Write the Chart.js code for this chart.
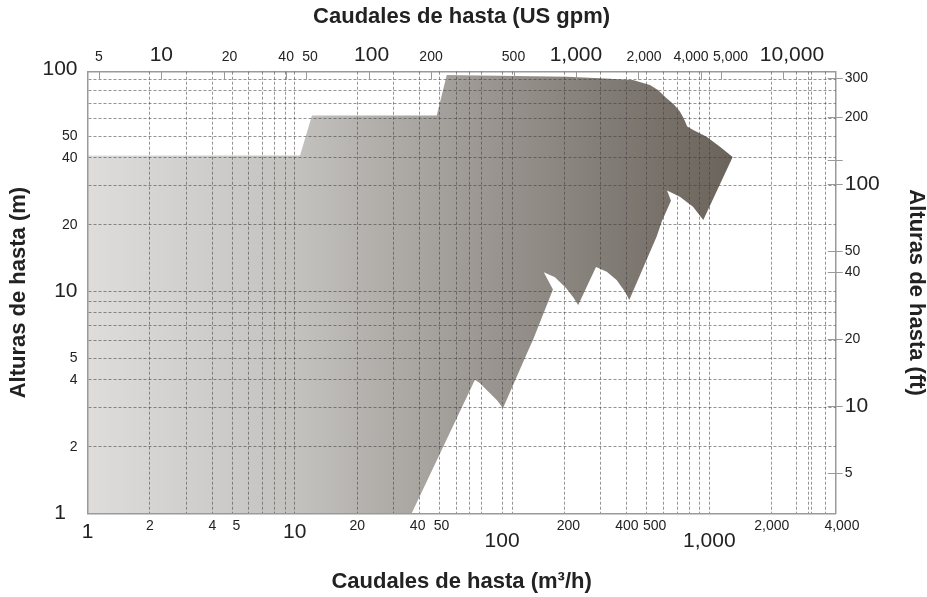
<!DOCTYPE html>
<html>
<head>
<meta charset="utf-8">
<script src="https://cdn.jsdelivr.net/npm/chart.js@4.4.0/dist/chart.umd.min.js"></script>
<style>
  html, body { margin: 0; padding: 0; background: #fff; }
  canvas { display: block; }
</style>
</head>
<body>
<canvas id="chart" width="927" height="597"></canvas>
<script>
// covered area, traced clockwise from the top-left corner: flow (m3/h) and head (m)
const envelopeFlow = [1, 10.6, 12.1, 48.4, 54.1, 206, 297, 428, 517, 565, 622, 675, 721, 751, 782,
  836, 970, 1125, 1296, 935, 834, 721, 625, 653, 589, 557, 411, 392, 357, 320, 284, 233, 220, 203,
  180, 159, 176, 141, 136, 101, 94.5, 87.4, 78.2, 74, 36.6, 1];
const envelopeHead = [41, 41, 62, 62, 94.5, 92.8, 91.3, 89.7, 85.2, 80.9, 74.2, 69.5, 64.6, 60.5, 55.3,
  53.4, 49.8, 44.9, 40.3, 21.0, 24.1, 26.7, 28.5, 25.6, 20.6, 17.7, 9.16, 9.98, 11.27, 12.28, 12.9, 8.7, 9.45, 10.4,
  11.6, 12.2, 10.2, 6.05, 5.62, 2.98, 3.24, 3.48, 3.86, 4.0, 1, 1];

// axes
const flowTicks = [1, 2, 4, 5, 10, 20, 40, 50, 100, 200, 400, 500, 1000, 2000, 4000];
const flowGrid = [2, 3, 4, 5, 6, 7, 8, 9, 10, 20, 30, 40, 50, 60, 70, 80, 100, 112,
  200, 300, 400, 500, 600, 700, 800, 900, 1000, 2000, 2640, 3000, 3120, 3615];
const headTicks = [1, 2, 4, 5, 10, 20, 40, 50, 100];
const headGrid = [2, 3, 4, 5, 6, 7, 8, 9, 10, 20, 30, 40, 50, 60, 70, 80, 90];
const gpmTicks = [5, 10, 20, 40, 50, 100, 200, 500, 1000, 2000, 4000, 5000, 10000];
const feetTicks = [5, 10, 20, 40, 50, 100, 128, 200, 300];
const feetLabels = ['5', '10', '20', '40', '50', '100', '', '200', '300'];

const flowRange = [1, 4070];
const headRange = [1, 97.7];
const GPM_PER_M3H = 4.4029;
const FT_PER_M = 1 / 0.3048;

// label tweaks (spaces to push a label sideways, lowered big labels)
const bottomNudge = {5: 2, 40: -1, 50: 1, 200: 2, 500: 4, 4000: 4};
const topNudge = {20: 3, 50: 2, 100: 1, 2000: 3, 4000: -5, 5000: 5, 10000: 3};
const leftNudge = {1: -2};
const lowered = [100, 1000];
const isBig = v => [1, 10, 100, 1000, 10000].includes(v);

const FONT = '"Liberation Sans", Arial, Helvetica, sans-serif';
const gridColor = 'rgba(60,60,60,0.55)';
const frameColor = '#9a9a9a';

Chart.defaults.font.family = FONT;
Chart.defaults.color = '#222';

const fmt = v => v.toLocaleString('en-US');
const nudge = (s, n) => !n ? s : (n > 0 ? ' '.repeat(n) + s : s + ' '.repeat(-n));
const union = (a, b) => [...new Set([...a, ...b])].sort((p, q) => p - q);
const setTicks = values => scale => { scale.ticks = values.map(v => ({value: v})); };

function envelopeFill(context) {
  const chart = context.chart;
  const area = chart.chartArea;
  if (!area) return '#aaa';
  const right = chart.scales.x.getPixelForValue(1300);
  const g = chart.ctx.createLinearGradient(area.left, 0, right, 0);
  g.addColorStop(0, '#dedddc');
  g.addColorStop(0.33, '#c3c1be');
  g.addColorStop(0.56, '#a29e99');
  g.addColorStop(0.8, '#837d77');
  g.addColorStop(1, '#6a635b');
  return g;
}

const tickMarks = {
  id: 'tickMarks',
  afterDraw(chart) {
    const {ctx, chartArea: a, scales} = chart;
    ctx.save();
    ctx.strokeStyle = frameColor;
    ctx.lineWidth = 1;
    ctx.beginPath();
    gpmTicks.forEach(v => {
      const x = Math.round(scales.x2.getPixelForValue(v)) + 0.5;
      ctx.moveTo(x, a.top);
      ctx.lineTo(x, a.top + 8);
    });
    feetTicks.forEach(v => {
      const y = Math.round(scales.y2.getPixelForValue(v)) + 0.5;
      ctx.moveTo(a.right - 8, y);
      ctx.lineTo(a.right + 7, y);
    });
    ctx.stroke();
    ctx.restore();
  }
};

const titleFont = {size: 22, weight: 'bold', lineHeight: 1};

new Chart(document.getElementById('chart'), {
  type: 'scatter',
  data: {
    datasets: [{
      data: envelopeFlow.map((q, i) => ({x: q, y: envelopeHead[i]})),
      showLine: true,
      fill: 'shape',
      tension: 0,
      backgroundColor: envelopeFill,
      borderColor: 'transparent',
      borderWidth: 0,
      pointRadius: 0
    }]
  },
  options: {
    responsive: false,
    animation: false,
    events: [],
    devicePixelRatio: 1,
    layout: {padding: 0},
    plugins: {legend: {display: false}, tooltip: {enabled: false}},
    scales: {
      x: {
        type: 'logarithmic', position: 'bottom',
        min: flowRange[0], max: flowRange[1],
        afterBuildTicks: setTicks(union(flowTicks, flowGrid)),
        afterFit: s => { s.height = 83.5; },
        grid: {
          z: 1, drawTicks: false, lineWidth: 1,
          color: c => flowGrid.includes(c.tick && c.tick.value) ? gridColor : 'transparent'
        },
        border: {z: 2, color: frameColor, width: 1.5, dash: [3, 2]},
        ticks: {
          autoSkip: false, maxRotation: 0, padding: 4,
          font: c => {
            const v = c.tick.value;
            if (lowered.includes(v)) return {size: 21, lineHeight: 0.75};
            return isBig(v) ? {size: 21, lineHeight: 1.4} : {size: 14, lineHeight: 1.2};
          },
          callback: v => {
            if (!flowTicks.includes(v)) return '';
            const s = nudge(fmt(v), bottomNudge[v]);
            return lowered.includes(v) ? ['', s] : s;
          }
        },
        title: {display: true, text: 'Caudales de hasta (m³/h)', font: titleFont, padding: {top: 0, bottom: 3.6}}
      },
      x2: {
        type: 'logarithmic', position: 'top',
        min: flowRange[0] * GPM_PER_M3H, max: flowRange[1] * GPM_PER_M3H,
        afterBuildTicks: setTicks(gpmTicks),
        afterFit: s => { s.height = 71.7; },
        grid: {display: false, drawOnChartArea: false, drawTicks: false},
        border: {color: frameColor, width: 1.5},
        ticks: {
          autoSkip: false, maxRotation: 0, padding: 6,
          font: c => isBig(c.tick.value) ? {size: 21, lineHeight: 1.0} : {size: 14, lineHeight: 1.2},
          callback: v => nudge(fmt(v), topNudge[v])
        },
        title: {display: true, text: 'Caudales de hasta (US gpm)', font: titleFont, padding: {top: 6, bottom: 0}}
      },
      y: {
        type: 'logarithmic', position: 'left',
        min: headRange[0], max: headRange[1],
        afterBuildTicks: setTicks(union(headTicks, headGrid)),
        afterFit: s => { s.width = 87.5; },
        grid: {
          z: 1, drawTicks: false, lineWidth: 1,
          color: c => headGrid.includes(c.tick && c.tick.value) ? gridColor : 'transparent'
        },
        border: {z: 2, color: frameColor, width: 1.5, dash: [3, 2]},
        ticks: {
          autoSkip: false, padding: 10,
          font: c => ({size: isBig(c.tick.value) ? 21 : 14}),
          callback: v => headTicks.includes(v) ? nudge(fmt(v), leftNudge[v]) : ''
        },
        title: {display: true, text: 'Alturas de hasta (m)', font: titleFont, padding: {top: 8, bottom: 0}}
      },
      y2: {
        type: 'logarithmic', position: 'right',
        min: headRange[0] * FT_PER_M, max: headRange[1] * FT_PER_M,
        afterBuildTicks: setTicks(feetTicks),
        afterFit: s => { s.width = 91.3; },
        grid: {display: false, drawOnChartArea: false, drawTicks: false},
        border: {color: frameColor, width: 1.5},
        ticks: {
          autoSkip: false, padding: 9,
          font: c => ({size: isBig(c.tick.value) ? 21 : 14}),
          callback: v => feetLabels[feetTicks.indexOf(v)]
        },
        title: {display: true, text: 'Alturas de hasta (ft)', font: titleFont, padding: {top: 0.4, bottom: 0}}
      }
    }
  },
  plugins: [tickMarks]
});
</script>
</body>
</html>
